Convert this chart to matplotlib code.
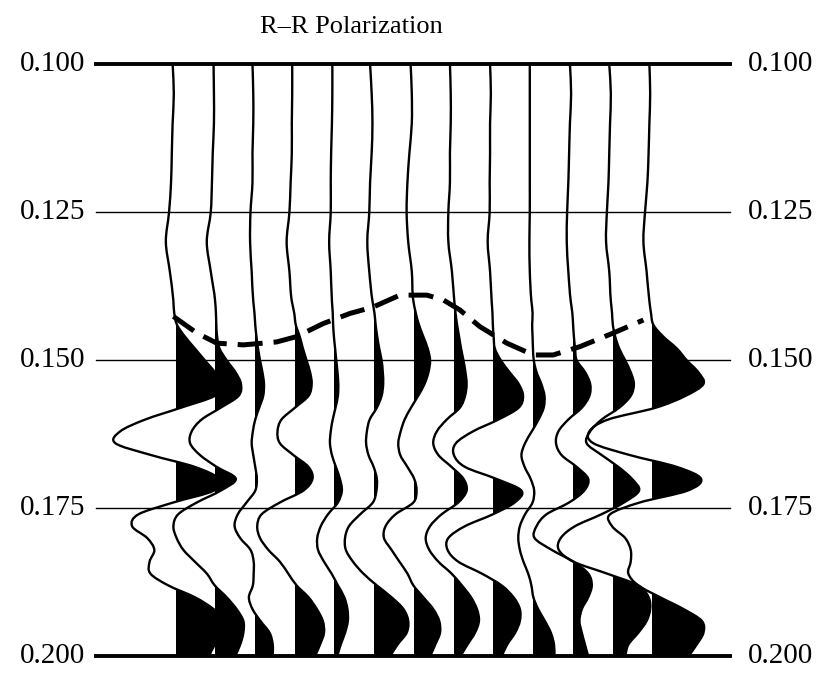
import numpy as np
import matplotlib
matplotlib.use('Agg')
import matplotlib.pyplot as plt
from matplotlib.path import Path
from matplotlib.patches import PathPatch, Rectangle
from matplotlib.transforms import IdentityTransform

# sample times (s): coarse where the traces are quiet, finer through the wavelets
times = np.round(np.r_[np.arange(0.100, 0.1401, 0.005), np.arange(0.142, 0.2001, 0.002)], 3)

# amplitudes in units of trace spacing (positive = filled)
tr01 = [-0.06, -0.03, -0.06, -0.08, -0.10, -0.15, -0.23, -0.13, -0.04,
        -0.02, 0.05, 0.25, 0.50, 0.75, 1.00, 1.15, 1.00, 0.15, -0.75,
        -1.38, -1.50, -0.60, 0.50, 1.10, 0.98, -0.04, -0.92, -1.08, -0.70,
        -0.52, -0.64, -0.62, -0.17, 0.50, 0.97, 1.25, 1.20, 1.00, 0.85]
tr02 = [-0.03, -0.02, -0.02, -0.05, -0.07, -0.10, -0.20, -0.10, 0.01,
        0.03, 0.04, 0.06, 0.12, 0.30, 0.52, 0.66, 0.60, 0.15, -0.33,
        -0.58, -0.62, -0.37, 0.05, 0.53, 0.15, -0.45, -0.92, -1.04, -0.96,
        -0.79, -0.50, -0.20, 0.00, 0.30, 0.55, 0.72, 0.72, 0.64, 0.51]
tr03 = [-0.05, -0.03, -0.03, -0.05, -0.05, -0.10, -0.11, -0.07, -0.03,
        0.00, 0.02, 0.05, 0.09, 0.14, 0.20, 0.24, 0.22, 0.12, 0.02,
        -0.04, -0.07, -0.03, 0.02, 0.06, 0.02, -0.20, -0.42, -0.50, -0.36,
        -0.10, -0.02, -0.02, -0.04, -0.14, -0.05, 0.15, 0.38, 0.46, 0.46]
tr04 = [-0.05, -0.05, -0.06, -0.06, -0.09, -0.12, -0.19, -0.12, -0.06,
        0.00, 0.04, 0.14, 0.22, 0.31, 0.40, 0.44, 0.36, 0.02, -0.32,
        -0.42, -0.36, -0.02, 0.36, 0.46, 0.23, -0.36, -0.82, -0.93, -0.86,
        -0.65, -0.36, -0.15, 0.06, 0.36, 0.57, 0.72, 0.75, 0.65, 0.52]
tr05 = [-0.04, -0.04, -0.05, -0.07, -0.08, -0.08, -0.12, -0.08, -0.05,
        -0.03, -0.02, 0.00, 0.03, 0.06, 0.09, 0.11, 0.10, 0.04, -0.03,
        -0.08, -0.10, -0.05, 0.05, 0.15, 0.20, 0.10, -0.15, -0.33, -0.42,
        -0.40, -0.25, -0.06, 0.10, 0.26, 0.34, 0.35, 0.28, 0.17, 0.08]
tr06 = [-0.09, -0.05, -0.03, -0.05, -0.09, -0.11, -0.16, -0.11, -0.03,
        0.02, 0.05, 0.09, 0.14, 0.20, 0.23, 0.24, 0.20, 0.08, -0.10,
        -0.17, -0.19, -0.13, 0.00, 0.08, 0.07, -0.02, -0.34, -0.62, -0.72,
        -0.70, -0.52, -0.26, 0.08, 0.45, 0.75, 0.87, 0.83, 0.60, 0.41]
tr07 = [-0.07, -0.04, -0.04, -0.10, -0.15, -0.17, -0.13, -0.04, 0.00,
        0.06, 0.14, 0.25, 0.36, 0.42, 0.38, 0.28, 0.12, -0.06, -0.22,
        -0.32, -0.38, -0.33, -0.15, 0.02, 0.08, 0.00, -0.45, -0.70, -0.74,
        -0.55, -0.35, -0.15, 0.00, 0.25, 0.50, 0.65, 0.67, 0.55, 0.42]
tr08 = [-0.08, -0.06, -0.06, -0.08, -0.08, -0.12, -0.12, -0.03, 0.03,
        0.06, 0.10, 0.15, 0.20, 0.26, 0.31, 0.34, 0.30, 0.17, -0.16,
        -0.41, -0.50, -0.37, -0.04, 0.26, 0.34, 0.13, -0.29, -0.58, -0.69,
        -0.60, -0.37, -0.04, 0.22, 0.45, 0.60, 0.65, 0.55, 0.36, 0.18]
tr09 = [-0.07, -0.05, -0.07, -0.07, -0.08, -0.08, -0.13, -0.07, -0.03,
        -0.01, 0.00, 0.02, 0.05, 0.20, 0.42, 0.65, 0.76, 0.65, 0.14,
        -0.50, -0.93, -0.98, -0.70, 0.08, 0.72, 0.55, 0.00, -0.70, -1.12,
        -1.14, -0.87, -0.28, 0.22, 0.52, 0.68, 0.68, 0.56, 0.36, 0.22]
tr10 = [-0.07, -0.07, -0.07, -0.07, -0.07, -0.07, -0.08, -0.07, -0.03,
        0.00, -0.01, 0.00, 0.01, 0.03, 0.10, 0.22, 0.30, 0.28, 0.15,
        -0.02, -0.19, -0.28, -0.20, -0.05, 0.04, 0.00, -0.19, -0.32, -0.36,
        -0.32, -0.23, -0.11, -0.03, 0.02, 0.14, 0.31, 0.46, 0.54, 0.55]
tr11 = [-0.06, -0.03, -0.06, -0.08, -0.10, -0.13, -0.14, -0.10, -0.04,
        0.00, 0.02, 0.04, 0.07, 0.11, 0.32, 0.45, 0.43, 0.24, -0.10,
        -0.35, -0.41, -0.27, 0.11, 0.40, 0.30, -0.08, -0.65, -0.90, -0.95,
        -0.52, 0.03, 0.40, 0.49, 0.40, 0.24, 0.18, 0.24, 0.32, 0.40]
tr12 = [-0.07, -0.03, -0.05, -0.07, -0.09, -0.13, -0.15, -0.07, -0.03,
        0.00, 0.02, 0.08, 0.18, 0.33, 0.47, 0.55, 0.47, 0.18, -0.26,
        -0.55, -0.64, -0.26, 0.16, 0.50, 0.68, 0.30, -0.27, -0.93, -1.29,
        -1.34, -0.97, -0.13, 0.66, 0.92, 0.96, 0.87, 0.66, 0.41, 0.33]
tr13 = [-0.06, -0.04, -0.06, -0.08, -0.11, -0.17, -0.21, -0.13, -0.06,
        -0.02, 0.04, 0.29, 0.63, 0.88, 1.17, 1.30, 0.85, 0.10, -1.10,
        -1.57, -1.47, -0.55, 0.63, 1.24, 0.90, -0.30, -1.05, -1.00, -0.67,
        -0.53, -0.53, -0.59, -0.34, 0.21, 0.80, 1.26, 1.30, 1.13, 0.92]
traces = [tr01, tr02, tr03, tr04, tr05, tr06, tr07, tr08, tr09, tr10, tr11, tr12, tr13]

# picked horizon (dashed), position in trace numbers and time
horizon_trace = [-0.04, 0.55, 1.05, 1.72, 2.56, 3.06, 3.73, 4.40, 4.99, 5.66,
                 6.34, 6.75, 7.17, 7.67, 8.35, 9.02, 9.52, 10.19, 11.03, 11.79]
horizon_time = [0.1426, 0.1454, 0.1471, 0.1474, 0.1469, 0.1460, 0.1438, 0.1421, 0.1410, 0.1390,
                0.1390, 0.1398, 0.1415, 0.1443, 0.1471, 0.1491, 0.1491, 0.1477, 0.1454, 0.1432]

time_ticks = [0.100, 0.125, 0.150, 0.175, 0.200]
tick_labels = ['0.100', '0.125', '0.150', '0.175', '0.200']
title = 'R\u2013R Polarization'


def smooth_segments(x, t):
    # cubic Hermite curve through the samples, x as a function of time
    m = np.gradient(x, t)
    verts, codes = [], []
    for k in range(len(t) - 1):
        h = t[k + 1] - t[k]
        verts += [(x[k] + m[k] * h / 3, t[k] + h / 3),
                  (x[k + 1] - m[k + 1] * h / 3, t[k + 1] - h / 3),
                  (x[k + 1], t[k + 1])]
        codes += [Path.CURVE4] * 3
    return verts, codes


plt.rcParams['font.family'] = ['Liberation Serif', 'DejaVu Serif']

fig = plt.figure(figsize=(8.27, 6.77), dpi=100)
ax = fig.add_axes([0.1161, 0.0303, 0.7666, 0.8750])
ax.set_xlim(-1.988, 13.969)
ax.set_ylim(0.200, 0.100)
ax.axis('off')

for t in time_ticks:
    thick = t in (time_ticks[0], time_ticks[-1])
    ax.axhline(t, color='black', lw=2.8 if thick else 1.0, clip_on=False, zorder=1)

for i, amp in enumerate(traces):
    x = i + np.asarray(amp)
    seg_v, seg_c = smooth_segments(x, times)

    # filled (positive) side: close the curve along the baseline, clip to the right of it
    fill_path = Path([(i, times[0]), (x[0], times[0])] + seg_v + [(i, times[-1]), (i, times[0])],
                     [Path.MOVETO, Path.LINETO] + seg_c + [Path.LINETO, Path.CLOSEPOLY])
    fill = PathPatch(fill_path, facecolor='black', edgecolor='none', zorder=2)
    ax.add_patch(fill)
    # clip edge on the next whole pixel so no hairline is left along the baseline
    base_px = np.ceil(ax.transData.transform((i, 0.15))[0] + 0.05)
    fill.set_clip_path(Rectangle((base_px, -10), 2000, 2000, transform=IdentityTransform()))

    line_path = Path([(x[0], times[0])] + seg_v, [Path.MOVETO] + seg_c)
    ax.add_patch(PathPatch(line_path, facecolor='none', edgecolor='black',
                           lw=1.7, capstyle='round', joinstyle='round', zorder=3))

ax.plot(horizon_trace, horizon_time, color='black', lw=3.6,
        dashes=(5.0, 2.2), zorder=4)

ytr = ax.get_yaxis_transform()
for t, lab in zip(time_ticks, tick_labels):
    ax.text(-0.017, t, lab, transform=ytr, ha='right', va='center', fontsize=21)
    ax.text(1.028, t, lab, transform=ytr, ha='left', va='center', fontsize=21)

fig.text(0.4244, 0.960, title, ha='center', va='center', fontsize=19)

fig.savefig('out.png', dpi=100)
